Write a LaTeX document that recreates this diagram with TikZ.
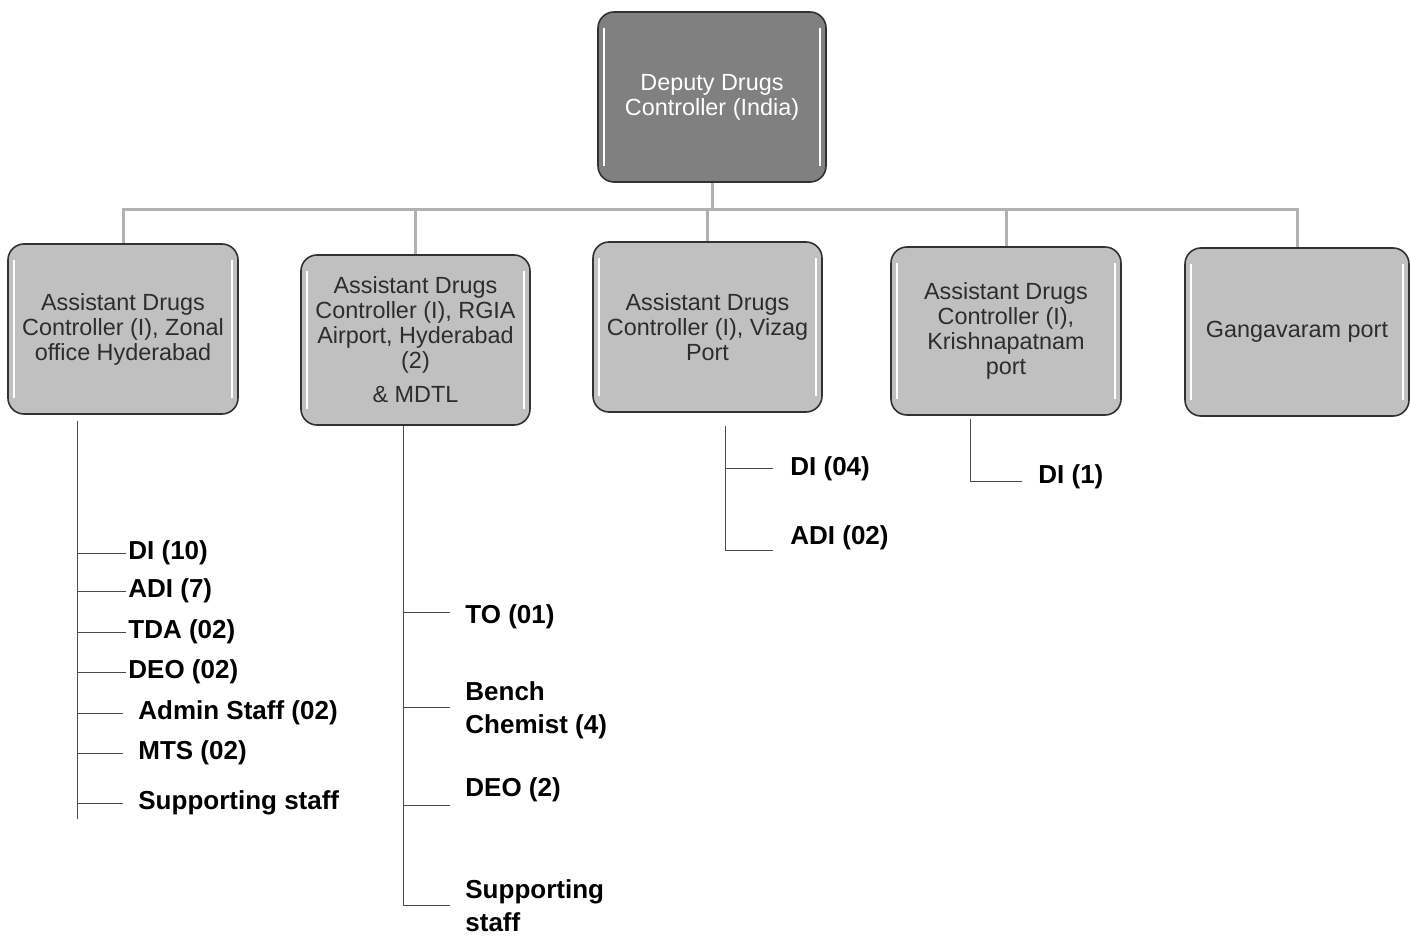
\documentclass[tikz,border=0pt]{standalone}
\usepackage{fontspec}
\setmainfont{Liberation Sans}
\definecolor{boxgray}{RGB}{192,192,192}
\definecolor{topgray}{RGB}{128,128,128}
\definecolor{edgegray}{RGB}{50,50,50}
\definecolor{busgray}{RGB}{178,178,178}
\definecolor{txtgray}{RGB}{45,45,45}

\begin{document}
\begin{tikzpicture}[x=0.5pt,y=-0.5pt,
  office/.style={draw=edgegray,line width=0.8pt,fill=boxgray,rounded corners=8pt,
    minimum width=115pt,minimum height=85pt,align=center,text=txtgray,
    font=\fontsize{11.7}{12.5}\selectfont,
    path picture={\draw[white,line width=1pt]
      ([xshift=3pt,yshift=-8pt]path picture bounding box.north west) -- ([xshift=3pt,yshift=8pt]path picture bounding box.south west)
      ([xshift=-3pt,yshift=-8pt]path picture bounding box.north east) -- ([xshift=-3pt,yshift=8pt]path picture bounding box.south east);}},
  head/.style={office,fill=topgray,text=white,minimum width=114pt},
  staff/.style={font=\fontsize{13}{16.5}\selectfont\bfseries,align=left,inner sep=1pt,anchor=west},
  bus/.style={busgray,line width=1.5pt},
  tick/.style={draw=black!70,line width=0.5pt}]
\useasboundingbox (0,0) rectangle (1410,936);

\node[head] (ddc) at (712,97) {Deputy Drugs\\Controller (India)};
\node[office] (zo) at (123,329) {Assistant Drugs\\Controller (I), Zonal\\office Hyderabad};
\node[office,minimum width=114.5pt] (rgia) at (415.5,340) {Assistant Drugs\\Controller (I), RGIA\\Airport, Hyderabad\\(2)\\[4.5pt]\& MDTL};
\node[office,minimum width=114.5pt] (vizag) at (707.5,327) {Assistant Drugs\\Controller (I), Vizag\\Port};
\node[office,minimum height=84pt] (kp) at (1006,331) {Assistant Drugs\\Controller (I),\\Krishnapatnam\\port};
\node[office,minimum width=112pt,minimum height=84pt] (gp) at (1297,332) {Gangavaram port};

\coordinate (bus) at (712,210);
\draw[bus] (ddc.south) -- (bus);
\draw[bus] (zo.north) -- (zo.north |- bus) -- (gp.north |- bus) -- (gp.north);
\foreach \o in {rgia,vizag,kp} \draw[bus] (\o.north) -- (\o.north |- bus);

\coordinate (zotop) at ([xshift=-23pt,yshift=-3pt]zo.south);
\draw[tick] (zotop) -- ++(0,398);
\foreach \y/\n/\t in {553/a/{DI (10)},591/b/{ADI (7)},632/c/{TDA (02)},672/d/{DEO (02)}}{
  \node[staff] (zo\n) at (126,\y) {\t};
  \draw[tick] (zotop |- zo\n.west) -- (zo\n.west);}
\foreach \y/\n/\t in {713/e/{Admin Staff (02)},753/f/{MTS (02)},803/g/{Supporting staff}}{
  \node[staff,inner xsep=7.5pt] (zo\n) at (123,\y) {\t};
  \draw[tick] (zotop |- zo\n.west) -- (zo\n.west);}

\coordinate (rgtop) at ([xshift=-6.25pt]rgia.south);
\draw[tick] (rgtop) -- ++(0,480);
\foreach \ly/\ty/\n/\t in {612/617/a/{TO (01)},707/710/b/{Bench\\Chemist (4)},805/790/c/{DEO (2)},905/906/d/{Supporting\\staff}}{
  \node[staff,inner xsep=7.5pt] (rg\n) at (450,\ty) {\t};
  \coordinate (rg\n l) at (450,\ly);
  \draw[tick] (rgtop |- rg\n l) -- (rg\n l);}

\coordinate (vztop) at ([xshift=8.75pt,yshift=-6.5pt]vizag.south);
\node[staff,inner xsep=8.5pt] (vza) at (773,469) {DI (04)};
\node[staff,inner xsep=8.5pt] (vzb) at (773,538) {ADI (02)};
\coordinate (vzbl) at (773,550);
\draw[tick] (vztop) |- (vzbl);
\draw[tick] (vztop |- vza.west) -- (vza.west);

\coordinate (kptop) at ([xshift=-18pt,yshift=-1.5pt]kp.south);
\node[staff,inner xsep=8pt] (kpa) at (1022,477) {DI (1)};
\coordinate (kpal) at (1022,482);
\draw[tick] (kptop) |- (kpal);
\end{tikzpicture}
\end{document}
